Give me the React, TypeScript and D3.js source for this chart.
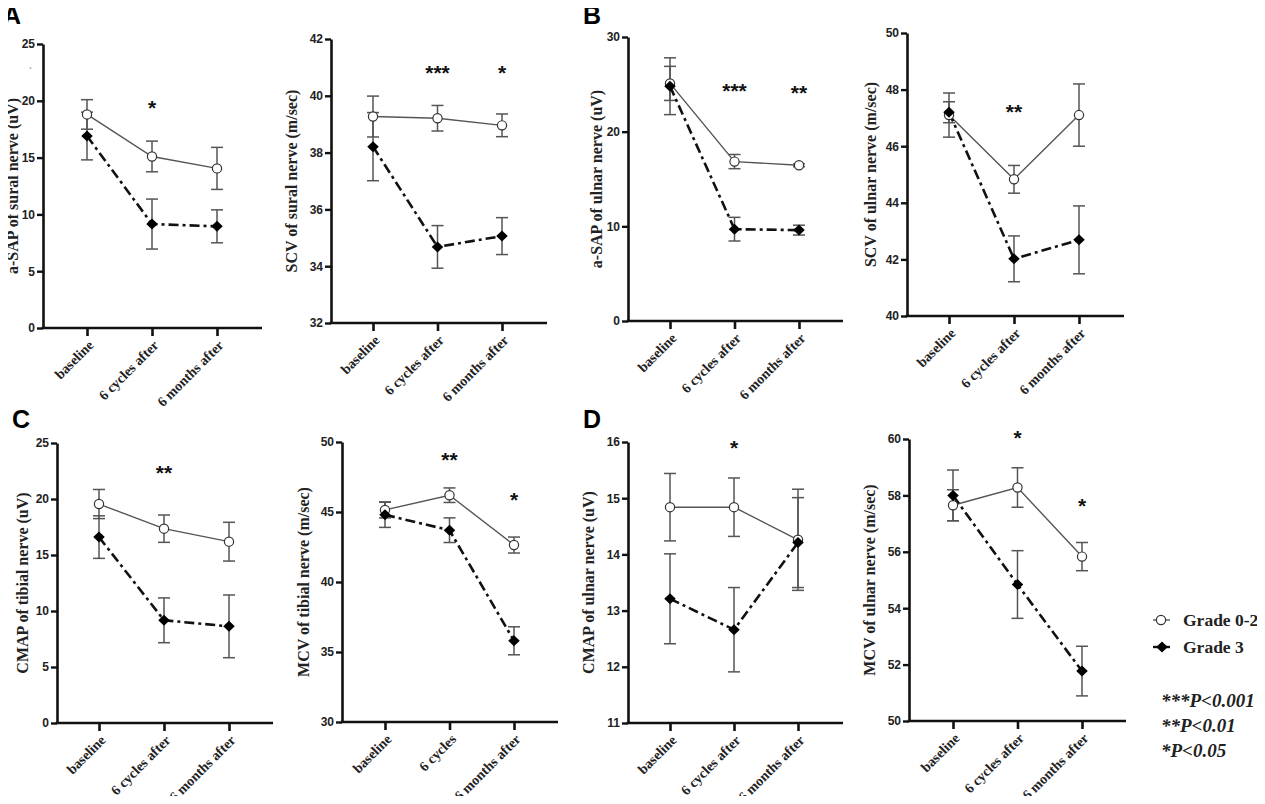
import { useEffect, useRef } from "react";
import * as d3 from "d3";

const timepoints = ["baseline", "6 cycles after", "6 months after"];
const timepointsShort = ["baseline", "6 cycles", "6 months after"];

// Grade 0-2 = "low", Grade 3 = "high"; mean values and error bar half-widths
const sapSuralLow = [18.8, 15.1, 14.05];
const sapSuralLowErr = [1.3, 1.35, 1.85];
const sapSuralHigh = [16.9, 9.15, 8.95];
const sapSuralHighErr = [2.1, 2.2, 1.45];

const scvSuralLow = [39.27, 39.21, 38.96];
const scvSuralLowErr = [0.72, 0.45, 0.4];
const scvSuralHigh = [38.21, 34.68, 35.06];
const scvSuralHighErr = [1.2, 0.75, 0.65];

const sapUlnarLow = [25.1, 16.84, 16.45];
const sapUlnarLowErr = [1.8, 0.75, 0.15];
const sapUlnarHigh = [24.8, 9.7, 9.6];
const sapUlnarHighErr = [3.0, 1.25, 0.52];

const scvUlnarLow = [47.1, 44.83, 47.1];
const scvUlnarLowErr = [0.78, 0.49, 1.1];
const scvUlnarHigh = [47.2, 42.02, 42.69];
const scvUlnarHighErr = [0.37, 0.81, 1.2];

const cmapTibialLow = [19.55, 17.35, 16.19];
const cmapTibialLowErr = [1.3, 1.22, 1.73];
const cmapTibialHigh = [16.6, 9.17, 8.63];
const cmapTibialHighErr = [1.9, 2.0, 2.8];

const mcvTibialLow = [45.15, 46.2, 42.64];
const mcvTibialLowErr = [0.57, 0.52, 0.57];
const mcvTibialHigh = [44.8, 43.7, 35.8];
const mcvTibialHighErr = [0.9, 0.88, 1.0];

const cmapUlnarLow = [14.84, 14.84, 14.26];
const cmapUlnarLowErr = [0.6, 0.52, 0.9];
const cmapUlnarHigh = [13.21, 12.66, 14.21];
const cmapUlnarHighErr = [0.8, 0.75, 0.8];

const mcvUlnarLow = [57.65, 58.28, 55.83];
const mcvUlnarLowErr = [0.55, 0.7, 0.5];
const mcvUlnarHigh = [58.0, 54.84, 51.77];
const mcvUlnarHighErr = [0.9, 1.2, 0.88];

// significance marks: [timepoint index, label, value where the mark sits]
const starsSapSural: [number, string, number][] = [[1, "*", 19.8]];
const starsScvSural: [number, string, number][] = [[1, "***", 40.98], [2, "*", 40.98]];
const starsSapUlnar: [number, string, number][] = [[1, "***", 24.85], [2, "**", 24.6]];
const starsScvUlnar: [number, string, number][] = [[1, "**", 47.4]];
const starsCmapTibial: [number, string, number][] = [[1, "**", 22.8]];
const starsMcvTibial: [number, string, number][] = [[1, "**", 49.05], [2, "*", 46.2]];
const starsCmapUlnar: [number, string, number][] = [[1, "*", 15.98]];
const starsMcvUlnar: [number, string, number][] = [[1, "*", 60.2], [2, "*", 57.8]];

const legendLabels = ["Grade 0-2", "Grade 3"];
const pLabels = ["***P<0.001", "**P<0.01", "*P<0.05"];

const SERIF = "'Liberation Serif', 'Times New Roman', serif";
const SANS = "'Liberation Sans', Arial, sans-serif";

const panels = [
  { title: "a-SAP of sural nerve (uV)", cats: timepoints, low: sapSuralLow, lowErr: sapSuralLowErr, high: sapSuralHigh, highErr: sapSuralHighErr, domain: [0, 25], ticks: d3.range(0, 26, 5), stars: starsSapSural, axisX: 43, yTop: 44, yBottom: 328, catRange: [87, 217], axisEnd: 262, labelX: 12 },
  { title: "SCV of sural nerve (m/sec)", cats: timepoints, low: scvSuralLow, lowErr: scvSuralLowErr, high: scvSuralHigh, highErr: scvSuralHighErr, domain: [32, 42], ticks: d3.range(32, 43, 2), stars: starsScvSural, axisX: 331, yTop: 39, yBottom: 323, catRange: [373, 502], axisEnd: 547, labelX: 291 },
  { title: "a-SAP of ulnar nerve (uV)", cats: timepoints, low: sapUlnarLow, lowErr: sapUlnarLowErr, high: sapUlnarHigh, highErr: sapUlnarHighErr, domain: [0, 30], ticks: d3.range(0, 31, 10), stars: starsSapUlnar, axisX: 628, yTop: 37, yBottom: 321, catRange: [670, 799], axisEnd: 843, labelX: 596 },
  { title: "SCV of ulnar nerve (m/sec)", cats: timepoints, low: scvUlnarLow, lowErr: scvUlnarLowErr, high: scvUlnarHigh, highErr: scvUlnarHighErr, domain: [40, 50], ticks: d3.range(40, 51, 2), stars: starsScvUlnar, axisX: 907, yTop: 33, yBottom: 316, catRange: [949, 1079], axisEnd: 1124, labelX: 870 },
  { title: "CMAP of tibial nerve (uV)", cats: timepoints, low: cmapTibialLow, lowErr: cmapTibialLowErr, high: cmapTibialHigh, highErr: cmapTibialHighErr, domain: [0, 25], ticks: d3.range(0, 26, 5), stars: starsCmapTibial, axisX: 57, yTop: 443, yBottom: 723, catRange: [99, 229], axisEnd: 273, labelX: 22 },
  { title: "MCV of tibial nerve (m/sec)", cats: timepointsShort, low: mcvTibialLow, lowErr: mcvTibialLowErr, high: mcvTibialHigh, highErr: mcvTibialHighErr, domain: [30, 50], ticks: d3.range(30, 51, 5), stars: starsMcvTibial, axisX: 342, yTop: 442, yBottom: 722, catRange: [385, 514], axisEnd: 558, labelX: 303 },
  { title: "CMAP of ulnar nerve (uV)", cats: timepoints, low: cmapUlnarLow, lowErr: cmapUlnarLowErr, high: cmapUlnarHigh, highErr: cmapUlnarHighErr, domain: [11, 16], ticks: d3.range(11, 17, 1), stars: starsCmapUlnar, axisX: 628, yTop: 442, yBottom: 723, catRange: [670, 798], axisEnd: 843, labelX: 588 },
  { title: "MCV of ulnar nerve (m/sec)", cats: timepoints, low: mcvUlnarLow, lowErr: mcvUlnarLowErr, high: mcvUlnarHigh, highErr: mcvUlnarHighErr, domain: [50, 60], ticks: d3.range(50, 61, 2), stars: starsMcvUlnar, axisX: 909, yTop: 439, yBottom: 721, catRange: [953, 1082], axisEnd: 1126, labelX: 869 },
];

const letters = [
  { t: "A", x: 3, y: 24 },
  { t: "B", x: 583, y: 24 },
  { t: "C", x: 12, y: 428 },
  { t: "D", x: 583, y: 428 },
];

const diamond = (r: number) => `M0,${-r}L${r * 1.05},0L0,${r}L${-r * 1.05},0Z`;

export default function App() {
  const ref = useRef<SVGSVGElement>(null);

  useEffect(() => {
    if (!ref.current) return;
    const svg = d3.select(ref.current);
    svg.selectAll("*").remove();

    letters.forEach((l) => {
      svg.append("text").attr("x", l.x).attr("y", l.y).text(l.t)
        .attr("font-family", SANS).attr("font-weight", "bold").attr("font-size", 25).attr("fill", "#000");
    });

    svg.append("text").attr("x", 29).attr("y", 74).text("`")
      .attr("font-family", SANS).attr("font-size", 9).attr("fill", "#333");

    panels.forEach((p) => {
      const y = d3.scaleLinear().domain(p.domain).range([p.yBottom, p.yTop]);
      const x = d3.scalePoint<string>().domain(p.cats).range(p.catRange as [number, number]);
      const g = svg.append("g");

      // y axis
      const ya = g.append("g").attr("transform", `translate(${p.axisX},0)`)
        .call(d3.axisLeft(y).tickValues(p.ticks).tickSize(6).tickSizeOuter(0).tickPadding(2).tickFormat(d3.format("d")));
      ya.select(".domain").attr("stroke", "#111").attr("stroke-width", 2.6);
      ya.selectAll(".tick line").attr("stroke", "#111").attr("stroke-width", 2.4);
      ya.selectAll(".tick text").attr("font-family", SANS).attr("font-weight", "bold")
        .attr("font-size", 12).attr("fill", "#222");

      // x axis
      g.append("line").attr("x1", p.axisX - 1.3).attr("x2", p.axisEnd)
        .attr("y1", p.yBottom).attr("y2", p.yBottom).attr("stroke", "#111").attr("stroke-width", 2.6);
      const xa = g.append("g").attr("transform", `translate(0,${p.yBottom})`)
        .call(d3.axisBottom(x).tickSize(8).tickSizeOuter(0));
      xa.select(".domain").remove();
      xa.selectAll(".tick line").attr("stroke", "#111").attr("stroke-width", 2.6);
      xa.selectAll(".tick text")
        .attr("font-family", SERIF).attr("font-weight", "bold").attr("font-size", 14).attr("fill", "#222")
        .attr("text-anchor", "end").attr("y", 0).attr("dy", 0)
        .attr("transform", "translate(7,18) rotate(-45)");

      // y label
      const cy = (p.yTop + p.yBottom) / 2;
      g.append("text").attr("transform", `translate(${p.labelX},${cy}) rotate(-90)`)
        .attr("text-anchor", "middle").attr("dominant-baseline", "central")
        .attr("font-family", SERIF).attr("font-weight", "bold").attr("font-size", 16).attr("fill", "#222")
        .text(p.title);

      const series = [
        { m: p.low, e: p.lowErr, color: "#555", width: 1.4, dash: null as string | null },
        { m: p.high, e: p.highErr, color: "#111", width: 2.6, dash: "10,4,3,4" },
      ];

      // error bars
      series.forEach((s) => {
        const eg = g.append("g").attr("stroke", "#555").attr("stroke-width", 1.5).attr("fill", "none");
        s.m.forEach((v, i) => {
          const cx = x(p.cats[i])!;
          const y1 = y(v + s.e[i]);
          const y2 = y(v - s.e[i]);
          eg.append("line").attr("x1", cx).attr("x2", cx).attr("y1", y1).attr("y2", y2);
          eg.append("line").attr("x1", cx - 6).attr("x2", cx + 6).attr("y1", y1).attr("y2", y1);
          eg.append("line").attr("x1", cx - 6).attr("x2", cx + 6).attr("y1", y2).attr("y2", y2);
        });
      });

      // lines
      series.forEach((s) => {
        const line = d3.line<number>().x((_, i) => x(p.cats[i])!).y((v) => y(v));
        const path = g.append("path").datum(s.m).attr("d", line).attr("fill", "none")
          .attr("stroke", s.color).attr("stroke-width", s.width);
        if (s.dash) path.attr("stroke-dasharray", s.dash);
      });

      // markers
      g.selectAll(null).data(p.low).join("circle")
        .attr("cx", (_, i) => x(p.cats[i])!).attr("cy", (v) => y(v)).attr("r", 4.6)
        .attr("fill", "#fff").attr("stroke", "#333").attr("stroke-width", 1.2);
      g.selectAll(null).data(p.high).join("path")
        .attr("transform", (v, i) => `translate(${x(p.cats[i])},${y(v)})`)
        .attr("d", diamond(5.5)).attr("fill", "#000");

      // significance
      p.stars.forEach(([i, lab, v]) => {
        g.append("text").attr("x", x(p.cats[i])!).attr("y", y(v) + 12)
          .attr("text-anchor", "middle").attr("font-family", SANS).attr("font-weight", "bold")
          .attr("font-size", 21).attr("fill", "#111").text(lab);
      });
    });

    // legend
    const lg = svg.append("g");
    const legY = [620, 647];
    lg.append("line").attr("x1", 1153).attr("x2", 1170).attr("y1", legY[0]).attr("y2", legY[0])
      .attr("stroke", "#555").attr("stroke-width", 1.4);
    lg.append("circle").attr("cx", 1161).attr("cy", legY[0]).attr("r", 4.6)
      .attr("fill", "#fff").attr("stroke", "#333").attr("stroke-width", 1.2);
    lg.append("line").attr("x1", 1153).attr("x2", 1170).attr("y1", legY[1]).attr("y2", legY[1])
      .attr("stroke", "#111").attr("stroke-width", 2.4);
    lg.append("path").attr("transform", `translate(1162,${legY[1]})`).attr("d", diamond(5.5)).attr("fill", "#000");
    legendLabels.forEach((t, i) => {
      lg.append("text").attr("x", 1183).attr("y", legY[i]).attr("dominant-baseline", "central")
        .attr("font-family", SERIF).attr("font-weight", "bold").attr("font-size", 17.5).attr("fill", "#222").text(t);
    });
    pLabels.forEach((t, i) => {
      lg.append("text").attr("x", 1161).attr("y", 707 + i * 25)
        .attr("font-family", SERIF).attr("font-weight", "bold").attr("font-style", "italic")
        .attr("font-size", 19).attr("fill", "#222").text(t);
    });
  }, []);

  return (
    <div style={{ margin: -8 }}>
      <svg ref={ref} width={1265} height={804} style={{ display: "block", background: "#fff" }}></svg>
    </div>
  );
}
